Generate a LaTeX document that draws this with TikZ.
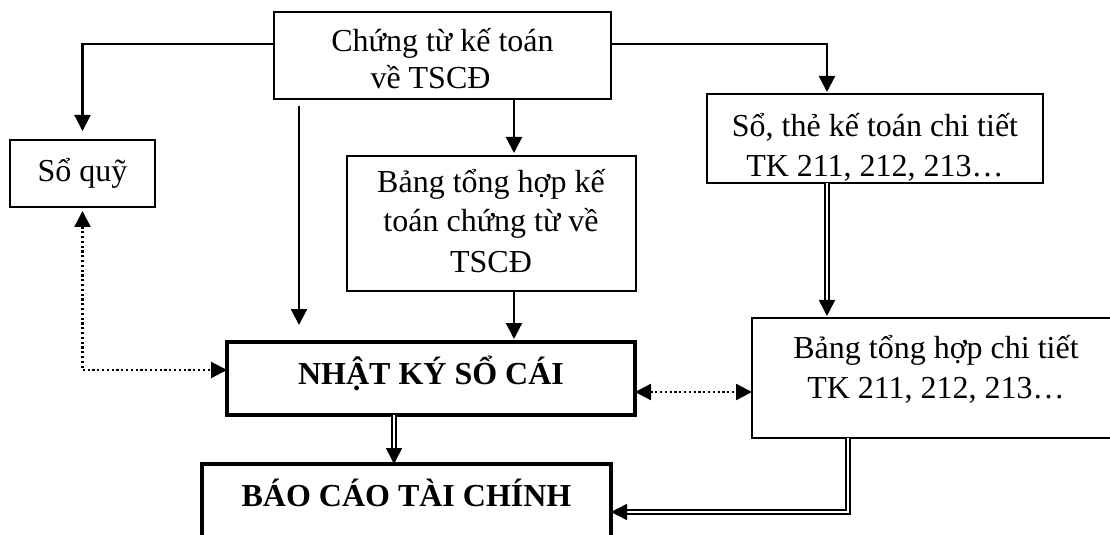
\documentclass[tikz,border=0pt]{standalone}
\usepackage{fontspec}
\setmainfont{Liberation Serif}
\usetikzlibrary{arrows.meta,fit,calc}
\begin{document}
\begin{tikzpicture}[x=0.5pt,y=-0.5pt,
  box/.style={draw,line width=1pt,inner sep=0pt,outer sep=0pt},
  bbox/.style={draw,line width=2pt,inner sep=0pt,outer sep=0pt},
  txt/.style={inner sep=0pt,anchor=base,font=\fontsize{16}{20}\selectfont},
  tip/.style={-{Triangle[length=8pt,width=8pt]}},
  conn/.style={line width=1.1pt,tip},
  dotln/.style={line width=1.2pt,dash pattern=on 1.1pt off 1.3pt,{Triangle[length=8pt,width=8pt]}-{Triangle[length=8pt,width=8pt]}},
  dbl/.style={double,double distance=1.4pt,line width=0.75pt,tip}]
\useasboundingbox (0,0) rectangle (1110,535);
\clip (0,0) rectangle (1110,535);
% boxes
\node[box, fit={(274,12) (611,99)}] (T) {};
\node[box, fit={(10,140) (155,207)}] (Q) {};
\node[box, fit={(347,156) (636,291)}] (B) {};
\node[box, fit={(707,94) (1043,183)}] (S) {};
\node[bbox, fit={(227,342) (635,415)}] (N) {};
\node[box, fit={(752,318) (1122,438)}] (D) {};
\node[bbox, fit={(202,464) (611,548)}] (F) {};
% texts
\node[txt,font=\fontsize{16}{18.5}\selectfont] (tT) at (442.5,52) {\begin{tabular}[t]{@{}c@{}}Chứng từ kế toán\\về TSCĐ\hspace*{12pt}\end{tabular}};
\node[txt] (tQ) at (82.5,182) {Sổ quỹ};
\node[txt] (tB) at (491,192) {\begin{tabular}[t]{@{}c@{}}Bảng tổng hợp kế\\toán chứng từ về\\TSCĐ\end{tabular}};
\node[txt] (tS) at (875,137) {\begin{tabular}[t]{@{}c@{}}Sổ, thẻ kế toán chi tiết\\TK 211, 212, 213…\end{tabular}};
\node[txt,font=\fontsize{16}{20}\selectfont\bfseries] (tN) at (431,385) {NHẬT KÝ SỔ CÁI};
\node[txt] (tD) at (936,358) {\begin{tabular}[t]{@{}c@{}}Bảng tổng hợp chi tiết\\TK 211, 212, 213…\end{tabular}};
\node[txt,font=\fontsize{16}{20}\selectfont\bfseries] (tF) at (406.5,506) {BÁO CÁO TÀI CHÍNH};
% helper coordinates
\coordinate (c1) at (514,0);
\coordinate (c2) at (0,44);
\coordinate (c3) at (827,0);
\coordinate (c4) at (0,370);
\coordinate (c5) at (0,392);
\coordinate (c6) at (394,0);
\coordinate (c7) at (848,0);
\coordinate (c8) at (0,512);
\coordinate (v1) at (299,106);
\coordinate (v2) at (299,325);
% connectors
\draw[conn, shorten >=4.5pt] (T.west |- c2) -| (Q.north);
\draw[conn] (v1) -- (v2);
\draw[conn, shorten >=1.5pt] (T.south -| c1) -- (B.north -| c1);
\draw[conn, shorten >=1.5pt] (B.south -| c1) -- (N.north -| c1);
\draw[conn, shorten >=1pt] (T.east |- c2) -| (S.north -| c3);
\draw[dbl, shorten >=1pt] (S.south -| c3) -- (D.north -| c3);
\draw[dotln, shorten <=2pt] (Q.south) |- (N.west |- c4);
\draw[dotln] (N.east |- c5) -- (D.west |- c5);
\draw[dbl] (N.south -| c6) -- (F.north -| c6);
\draw[dbl] (D.south -| c7) |- (F.east |- c8);
\end{tikzpicture}
\end{document}
